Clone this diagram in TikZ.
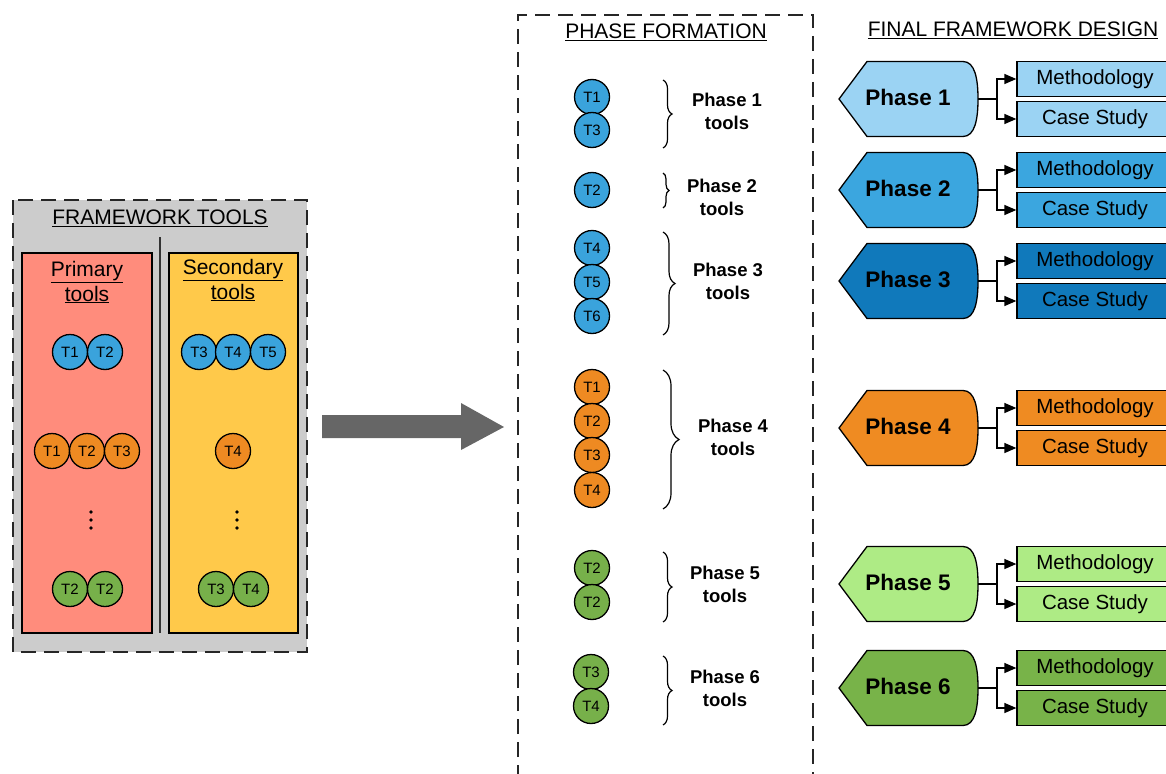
\documentclass[tikz,border=0pt]{standalone}
\usepackage{fontspec}
\setmainfont{Liberation Sans}
\usetikzlibrary{decorations.pathreplacing,arrows.meta}

\definecolor{toolblue}{HTML}{3AA3DC}
\definecolor{toolorange}{HTML}{EE8A22}
\definecolor{toolgreen}{HTML}{77B04A}
\definecolor{primfill}{HTML}{FF8C7C}
\definecolor{secfill}{HTML}{FFC94A}
\definecolor{panelgray}{HTML}{CCCCCC}
\definecolor{arrowgray}{HTML}{666666}
\definecolor{ph1}{HTML}{9BD3F3}
\definecolor{ph2}{HTML}{3BA6DF}
\definecolor{ph3}{HTML}{1079BB}
\definecolor{ph4}{HTML}{EF8B22}
\definecolor{ph5}{HTML}{AEEB85}
\definecolor{ph6}{HTML}{78B349}

\begin{document}
\begin{tikzpicture}[x=1pt,y=-1pt,
  tool/.style={circle,draw=black,line width=1.3pt,minimum size=35pt,inner sep=0pt,font=\fontsize{15}{15}\selectfont},
  title/.style={font=\fontsize{21}{25}\selectfont,align=center},
  frame/.style={draw=black!85,line width=1.6pt,dash pattern=on 15pt off 8pt},
  panel/.style={draw=black,line width=1.3pt},
  phaseshape/.style={draw=black,line width=1.3pt},
  phaselabel/.style={font=\fontsize{22.5}{27}\selectfont\bfseries},
  mbox/.style={draw=black,line width=1.3pt,minimum width=156pt,minimum height=35pt,inner sep=0pt,font=\fontsize{20.5}{24}\selectfont},
  ptools/.style={font=\fontsize{18.5}{23}\selectfont\bfseries,align=center},
  tbrace/.style={decorate,decoration={brace,amplitude=#1},line width=1.2pt},
  link/.style={line width=1.3pt,-{Triangle[length=12pt,width=10pt]}}
]
\useasboundingbox (0,0) rectangle (1166,773);

% ---------- framework tools panel ----------
\fill[panelgray] (13,200) rectangle (307,652);
\draw[frame] (13,200) rectangle (307,652);
\node[title] (fwtitle) at (160,218) {\underline{FRAMEWORK TOOLS}};
\draw[line width=1.5pt,black!80] (160,237) -- (160,633);
\draw[panel,fill=primfill] (22,253) rectangle (152,633);
\draw[panel,fill=secfill] (169,253) rectangle (298,633);
\node[title] (primtitle) at (87,282) {\underline{Primary}\\\underline{tools}};
\node[title] (sectitle) at (233,280) {\underline{Secondary}\\\underline{tools}};

\node[tool,fill=toolblue] (pa1) at (70,352) {T1};
\node[tool,fill=toolblue] (pa2) at (105,352) {T2};
\node[tool,fill=toolblue] (sa3) at (199,352) {T3};
\node[tool,fill=toolblue] (sa4) at (233,352) {T4};
\node[tool,fill=toolblue] (sa5) at (268,352) {T5};

\node[tool,fill=toolorange] (pb1) at (52,451) {T1};
\node[tool,fill=toolorange] (pb2) at (87,451) {T2};
\node[tool,fill=toolorange] (pb3) at (122,451) {T3};
\node[tool,fill=toolorange] (sb4) at (233,451) {T4};

\foreach \yy in {512,520,528}{
  \fill (91,\yy) circle (1.9);
  \fill (237,\yy) circle (1.9);
}

\node[tool,fill=toolgreen] (pc1) at (70,589) {T2};
\node[tool,fill=toolgreen] (pc2) at (105,589) {T2};
\node[tool,fill=toolgreen] (sc3) at (216,589) {T3};
\node[tool,fill=toolgreen] (sc4) at (251,589) {T4};

% ---------- transition arrow ----------
\fill[arrowgray] (322,415) -- (461,415) -- (461,403) -- (504,427)
  -- (461,450) -- (461,438) -- (322,438) -- cycle;

% ---------- phase formation panel ----------
\draw[frame] (518,780) -- (518,15) -- (813,15) -- (813,780);
\node[title] (pftitle) at (666,32) {\underline{PHASE FORMATION}};

\node[tool,fill=toolblue] (f1a) at (592,97) {T1};
\node[tool,fill=toolblue] (f1b) at (592,130) {T3};
\node[tool,fill=toolblue] (f2a) at (592,190) {T2};
\node[tool,fill=toolblue] (f3a) at (592,248) {T4};
\node[tool,fill=toolblue] (f3b) at (592,282) {T5};
\node[tool,fill=toolblue] (f3c) at (592,316) {T6};
\node[tool,fill=toolorange] (f4a) at (592,387) {T1};
\node[tool,fill=toolorange] (f4b) at (592,421) {T2};
\node[tool,fill=toolorange] (f4c) at (592,455) {T3};
\node[tool,fill=toolorange] (f4d) at (592,490) {T4};
\node[tool,fill=toolgreen] (f5a) at (592,568) {T2};
\node[tool,fill=toolgreen] (f5b) at (592,602) {T2};
\node[tool,fill=toolgreen] (f6a) at (591,672) {T3};
\node[tool,fill=toolgreen] (f6b) at (591,706) {T4};

\draw[tbrace=9pt] (663,80) -- (663,148);
\draw[tbrace=6pt] (663,173) -- (663,208);
\draw[tbrace=12pt] (663,232) -- (663,335);
\draw[tbrace=16pt] (663,370) -- (663,509);
\draw[tbrace=9pt] (663,552) -- (663,622);
\draw[tbrace=9pt] (663,656) -- (663,725);

\node[ptools] (t1) at (727,111) {Phase 1\\tools};
\node[ptools] (t2) at (722,197) {Phase 2\\tools};
\node[ptools] (t3) at (728,281) {Phase 3\\tools};
\node[ptools] (t4) at (733,437) {Phase 4\\tools};
\node[ptools] (t5) at (725,584) {Phase 5\\tools};
\node[ptools] (t6) at (725,688) {Phase 6\\tools};

% ---------- final framework design ----------
\node[title] (fdtitle) at (1013,30) {\underline{FINAL FRAMEWORK DESIGN}};

\foreach \i/\yc/\col in {1/99/ph1,2/190/ph2,3/281/ph3,4/428/ph4,5/584/ph5,6/688/ph6}{
  \draw[phaseshape,fill=\col] (839,\yc) -- (867,\yc-37.5) -- (963,\yc-37.5)
    .. controls (975,\yc-37.5) and (978,\yc-20) .. (978,\yc)
    .. controls (978,\yc+20) and (975,\yc+37.5) .. (963,\yc+37.5)
    -- (867,\yc+37.5) -- cycle;
  \node[phaselabel] (p\i) at (908,\yc-2) {Phase \i};
  \coordinate (q\i) at (978,\yc);
  \coordinate (j\i) at (997,\yc);
  \node[mbox,fill=\col] (m\i) at (1095,\yc-20) {Methodology};
  \node[mbox,fill=\col] (c\i) at (1095,\yc+20) {Case Study};
  \draw[line width=1.3pt] (q\i) -- (j\i);
  \draw[link] (j\i) |- (m\i.west);
  \draw[link] (j\i) |- (c\i.west);
}
\end{tikzpicture}
\end{document}
